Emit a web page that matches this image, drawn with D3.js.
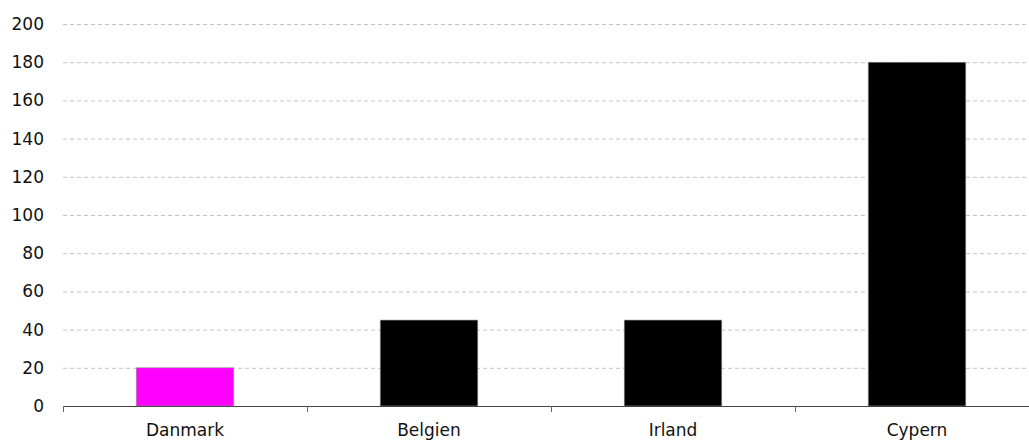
<!DOCTYPE html>
<html>
<head>
<meta charset="utf-8">
<script src="https://cdn.jsdelivr.net/npm/d3@7"></script>
<style>
  body { margin: 0; background: #fff; }
  svg text { font-family: "DejaVu Sans", Verdana, sans-serif; }
</style>
</head>
<body>
<div class="chart"></div>
<script>
// values
var categories = ["Danmark", "Belgien", "Irland", "Cypern"];
var values = [20, 45, 45, 180];
var barColors = ["#ff00ff", "#000000", "#000000", "#000000"];
var yTicks = [0, 20, 40, 60, 80, 100, 120, 140, 160, 180, 200];

var margins = { top: 24, left: 63, bottom: 36 };
var width = 1039 - margins.left;
var height = 406 - margins.top;

var svg = d3.select(".chart").append("svg")
    .attr("width", 1029)
    .attr("height", 442)
    .append("g")
    .attr("transform", "translate(" + margins.left + "," + margins.top + ")");

var x = d3.scaleBand()
    .domain(categories)
    .range([0, width])
    .paddingInner(0.6)
    .paddingOuter(0.3);

var y = d3.scaleLinear()
    .domain([0, 200])
    .range([height, 0]);

// dashed gridlines
svg.append("g")
    .attr("class", "grid")
    .selectAll("line")
    .data(yTicks.slice(1))
    .enter().append("line")
    .attr("x1", 0)
    .attr("x2", 1027 - margins.left)
    .attr("y1", function (d) { return y(d) + 0.5; })
    .attr("y2", function (d) { return y(d) + 0.5; })
    .attr("stroke", "#c4c4c4")
    .attr("stroke-dasharray", "4,3");

// y labels
var yAxis = svg.append("g")
    .call(d3.axisLeft(y).tickValues(yTicks).tickSize(0).tickPadding(19));
yAxis.select(".domain").remove();
yAxis.selectAll("text")
    .attr("fill", "#111")
    .style("font-size", "17px");

// bars
svg.selectAll(".bar")
    .data(values)
    .enter().append("rect")
    .attr("class", "bar")
    .attr("x", function (d, i) { return x(categories[i]); })
    .attr("width", x.bandwidth())
    .attr("y", function (d) { return y(d); })
    .attr("height", function (d) { return height - y(d); })
    .attr("fill", function (d, i) { return barColors[i]; })
    .attr("stroke", "#999")
    .attr("stroke-width", 0.6);

// x axis with boundary ticks between categories
var xAxis = svg.append("g")
    .attr("transform", "translate(0," + height + ")");

xAxis.append("line")
    .attr("x1", 0)
    .attr("x2", width)
    .attr("y1", 0.5)
    .attr("y2", 0.5)
    .attr("stroke", "#444")
    .attr("stroke-width", 1.2);

xAxis.selectAll(".tick-line")
    .data(categories)
    .enter().append("line")
    .attr("class", "tick-line")
    .attr("x1", function (d) { return Math.round(x(d) - x.step() * x.paddingOuter()) + 0.5; })
    .attr("x2", function (d) { return Math.round(x(d) - x.step() * x.paddingOuter()) + 0.5; })
    .attr("y1", 0)
    .attr("y2", 6)
    .attr("stroke", "#666");

xAxis.selectAll(".cat")
    .data(categories)
    .enter().append("text")
    .attr("class", "cat")
    .attr("x", function (d) { return x(d) + x.bandwidth() / 2; })
    .attr("y", 30)
    .attr("text-anchor", "middle")
    .attr("fill", "#111")
    .style("font-size", "17px")
    .text(function (d) { return d; });
</script>
</body>
</html>
